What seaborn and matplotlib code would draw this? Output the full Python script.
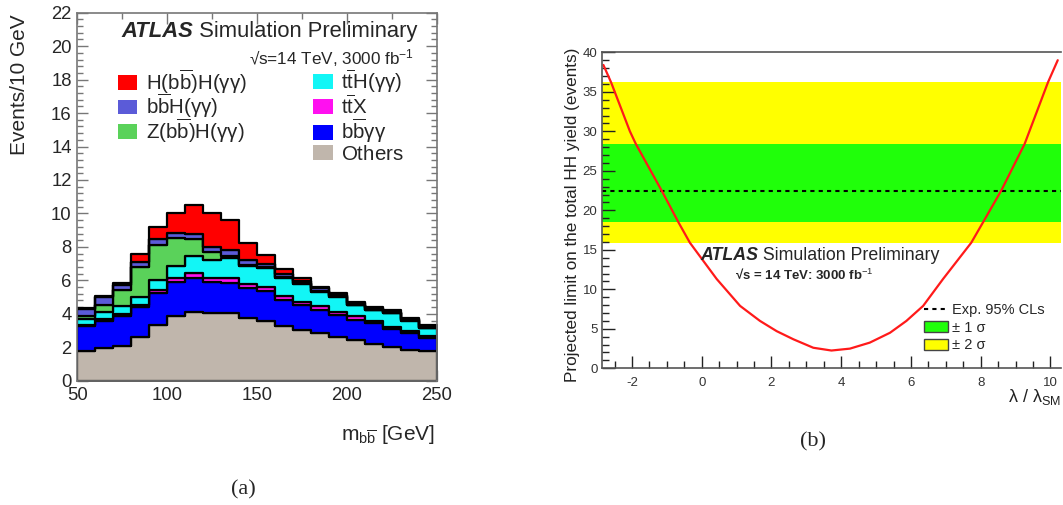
import numpy as np
import pandas as pd
import seaborn as sns
import matplotlib.pyplot as plt
from matplotlib.patches import Patch
from matplotlib.lines import Line2D
from matplotlib.ticker import MultipleLocator

# ---- panel (a): stacked m_bb distribution, events per 10 GeV bin ----
mbb_centres = [55, 65, 75, 85, 95, 105, 115, 125, 135, 145,
               155, 165, 175, 185, 195, 205, 215, 225, 235, 245]
others = [1.75, 1.95, 2.09, 2.61, 3.34, 3.88, 4.10, 4.04, 4.04, 3.74,
          3.60, 3.28, 3.04, 2.85, 2.61, 2.41, 2.19, 2.01, 1.85, 1.75]
bbyy = [1.53, 1.65, 1.75, 1.77, 1.89, 2.05, 2.03, 1.89, 1.83, 1.79,
        1.77, 1.55, 1.50, 1.39, 1.33, 1.23, 1.25, 1.08, 1.00, 0.80]
ttx = [0.06, 0.08, 0.14, 0.16, 0.20, 0.20, 0.30, 0.24, 0.26, 0.26,
       0.26, 0.24, 0.19, 0.20, 0.19, 0.20, 0.16, 0.15, 0.10, 0.10]
tth = [0.34, 0.45, 0.46, 0.49, 0.60, 0.75, 1.04, 1.06, 1.20, 1.04,
       1.10, 1.06, 1.06, 0.89, 0.90, 0.70, 0.64, 0.80, 0.65, 0.49]
zh = [0.16, 0.41, 0.99, 1.75, 2.09, 1.64, 0.99, 0.49, 0.14, 0.10,
      0.06, 0.06, 0.04, 0.03, 0.02, 0.01, 0.01, 0.01, 0.01, 0.01]
bbh = [0.44, 0.49, 0.30, 0.34, 0.34, 0.29, 0.29, 0.30, 0.32, 0.30,
       0.20, 0.20, 0.16, 0.17, 0.08, 0.08, 0.07, 0.07, 0.06, 0.07]
hh = [0.06, 0.04, 0.14, 0.46, 0.75, 1.24, 1.75, 2.03, 1.79, 1.03,
      0.54, 0.28, 0.18, 0.10, 0.10, 0.10, 0.07, 0.09, 0.08, 0.13]

process_names = ["HH", "bbH", "ZH", "ttH", "ttX", "bbyy", "Others"]
process_values = [hh, bbh, zh, tth, ttx, bbyy, others]
process_labels = [r"$\mathrm{H(b\overline{b})H(\gamma\gamma)}$",
                  r"$\mathrm{b\overline{b}H(\gamma\gamma)}$",
                  r"$\mathrm{Z(b\overline{b})H(\gamma\gamma)}$",
                  r"$\mathrm{t\overline{t}H(\gamma\gamma)}$",
                  r"$\mathrm{t\overline{t}X}$",
                  r"$\mathrm{b\overline{b}\gamma\gamma}$",
                  r"$\mathrm{Others}$"]
process_colors = ["#ff0000", "#5b5bd8", "#5ad25a", "#12f6f6",
                  "#ff10f0", "#0000ff", "#c0b6ac"]

# ---- panel (b): projected limit vs lambda / lambda_SM ----
lam_values = [-2.82, -2.60, -2.06, -1.89, -1.15, -0.67, -0.34, 0.43, 1.10,
              1.67, 2.15, 2.63, 3.20, 3.72, 4.25, 4.82, 5.40, 5.87, 6.35,
              6.92, 7.73, 8.07, 8.59, 9.26, 9.93, 10.21]
limit_values = [38.4, 36.2, 30.0, 28.4, 22.5, 18.5, 15.9, 11.3, 7.9,
                6.0, 4.7, 3.67, 2.6, 2.25, 2.49, 3.25, 4.5, 6.0, 7.9,
                11.3, 15.9, 18.5, 22.5, 28.4, 36.2, 39.0]
exp_limit = 22.5
one_sigma = (18.5, 28.4)
two_sigma = (15.9, 36.2)

sns.set_theme(style="ticks")
plt.rcParams['font.family'] = ['Liberation Sans', 'DejaVu Sans']
plt.rcParams['mathtext.fontset'] = 'custom'
plt.rcParams['mathtext.rm'] = 'Liberation Sans'
plt.rcParams['mathtext.it'] = 'Liberation Sans:italic'
plt.rcParams['mathtext.bf'] = 'Liberation Sans:bold'
plt.rcParams['axes.unicode_minus'] = False

fig = plt.figure(figsize=(10.63, 5.05), dpi=100)
ax1 = fig.add_axes([0.0727, 0.2461, 0.3381, 0.7287])
ax2 = fig.add_axes([0.566, 0.2707, 0.432, 0.6257])

## stacked histogram (first hue level ends up on top of the stack)
df = pd.concat([pd.DataFrame({'mbb': mbb_centres, 'events': vals, 'process': name})
                for name, vals in zip(process_names, process_values)],
               ignore_index=True)
sns.histplot(ax=ax1, data=df, x='mbb', weights='events', hue='process',
             hue_order=process_names, palette=dict(zip(process_names, process_colors)),
             bins=20, binrange=(50, 250), multiple='stack', element='step',
             alpha=1, edgecolor='black', linewidth=1.6, legend=False)

ax1.set_xlim(50, 250)
ax1.set_ylim(0, 22)
ax1.xaxis.set_major_locator(MultipleLocator(50))
ax1.xaxis.set_minor_locator(MultipleLocator(25))
ax1.yaxis.set_major_locator(MultipleLocator(2))
ax1.yaxis.set_minor_locator(MultipleLocator(0.4))
ax1.tick_params(which='both', direction='in', top=True, right=True,
                color='#777777', labelsize=13.3)
ax1.tick_params(which='major', length=8, width=1)
ax1.tick_params(which='minor', length=4, width=1)
ax1.tick_params(axis='y', pad=4)
ax1.tick_params(axis='x', pad=4.5)
for sp in ax1.spines.values():
    sp.set_color('#777777')
    sp.set_linewidth(1.2)
ax1.set_ylabel('Events/10 GeV', fontsize=15, loc='top')
ax1.yaxis.set_label_coords(-0.135, 0.995)
ax1.set_xlabel(r"$\mathrm{m_{b\overline{b}}}$ [GeV]", fontsize=15, loc='right')
ax1.xaxis.set_label_coords(0.995, -0.115)

t1 = ax1.text(74.5, 20.9, 'ATLAS', fontsize=15.8, fontweight='bold',
              style='italic', va='center')
ax1.annotate(' Simulation Preliminary', xy=(1, 0), xycoords=t1,
             fontsize=15.8, va='bottom')
ax1.text(237.5, 19.3, "√s=14 TeV, 3000 fb$^{-1}$", fontsize=12.3,
         ha='right', va='center')

handles = [Patch(facecolor=c, edgecolor='none') for c in process_colors]
leg_kw = dict(loc='upper left', frameon=False, fontsize=14.8,
              handlelength=0.95, handleheight=0.72, handletextpad=0.4,
              borderpad=0, borderaxespad=0)
leg1 = ax1.legend(handles[:3], process_labels[:3],
                  bbox_to_anchor=(0.113, 0.851), labelspacing=-0.17, **leg_kw)
ax1.add_artist(leg1)
ax1.legend(handles[3:], process_labels[3:], bbox_to_anchor=(0.656, 0.851),
           labelspacing=-0.02, **leg_kw)

## limit scan
ax2.axhspan(*two_sigma, color='#ffff00', lw=0, zorder=0)
ax2.axhspan(*one_sigma, color='#20ff0a', lw=0, zorder=0)
ax2.axhline(exp_limit, color='black', ls=(0, (2, 2)), lw=1.5, zorder=1)
sns.lineplot(ax=ax2, x=lam_values, y=limit_values, color='#ff1a1a', lw=1.6,
             sort=False, errorbar=None, zorder=2)

ax2.set_xlim(-2.87, 10.3)
ax2.set_ylim(0, 40)
ax2.xaxis.set_major_locator(MultipleLocator(2))
ax2.xaxis.set_minor_locator(MultipleLocator(0.5))
ax2.yaxis.set_major_locator(MultipleLocator(5))
ax2.yaxis.set_minor_locator(MultipleLocator(1))
ax2.tick_params(which='both', direction='in', color='#222222',
                labelsize=9.5, labelcolor='#333333')
ax2.tick_params(which='major', length=9, width=1)
ax2.tick_params(which='minor', length=5, width=1)
ax2.tick_params(axis='y', pad=3)
ax2.tick_params(axis='x', pad=6)
ax2.spines['right'].set_visible(False)
for sp in ['left', 'top', 'bottom']:
    ax2.spines[sp].set_color('#555555')
    ax2.spines[sp].set_linewidth(1.2)
ax2.set_ylabel('Projected limit on the total HH yield (events)',
               fontsize=12.3, color='#222222')
ax2.yaxis.set_label_coords(-0.047, 0.485)
ax2.set_xlabel("λ / λ$_{\\mathrm{SM}}$", fontsize=13,
               loc='right', color='#222222')
ax2.xaxis.set_label_coords(1.0, -0.06)

t2 = ax2.text(-0.05, 14.3, 'ATLAS', fontsize=12.8, fontweight='bold',
              style='italic', va='center')
ax2.annotate(' Simulation Preliminary', xy=(1, 0), xycoords=t2,
             fontsize=12.8, va='bottom')
ax2.text(0.94, 11.8, "√s = 14 TeV: 3000 fb$^{-1}$", fontsize=9.5,
         fontweight='bold', va='center')

leg_handles = [Line2D([], [], color='black', ls=(0, (2, 2)), lw=1.5),
               Patch(facecolor='#20ff0a', edgecolor='#444444'),
               Patch(facecolor='#ffff00', edgecolor='#444444')]
ax2.legend(leg_handles, ['Exp. 95% CLs', '± 1 σ', '± 2 σ'], loc='lower right',
           bbox_to_anchor=(0.965, 0.05), frameon=False, fontsize=10.5,
           handlelength=1.6, handleheight=0.8, handletextpad=0.3,
           labelspacing=0.25, borderpad=0, borderaxespad=0)

fig.text(243 / 1063, 1 - 490 / 505, '(a)', family='Liberation Serif',
         fontsize=16, ha='center', va='center')
fig.text(813 / 1063, 1 - 442 / 505, '(b)', family='Liberation Serif',
         fontsize=16, ha='center', va='center')

fig.savefig('out.png', dpi=100, facecolor='white')
